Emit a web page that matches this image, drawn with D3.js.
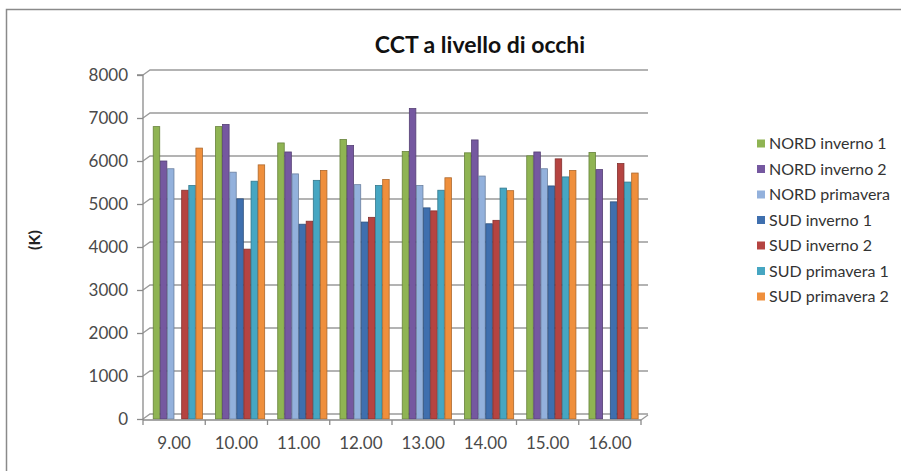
<!DOCTYPE html>
<html>
<head>
<meta charset="utf-8">
<script src="https://cdn.jsdelivr.net/npm/d3@7"></script>
<style>
  body { margin: 0; background: #fff; }
  svg { display: block; font-family: Lato, "Liberation Sans", sans-serif; }
</style>
</head>
<body>
<svg id="chart" width="901" height="471"></svg>
<script>
// hours on the x axis
var hours = ["9.00", "10.00", "11.00", "12.00", "13.00", "14.00", "15.00", "16.00"];
var seriesNames = ["NORD inverno 1", "NORD inverno 2", "NORD primavera",
    "SUD inverno 1", "SUD inverno 2", "SUD primavera 1", "SUD primavera 2"];
var seriesColors = ["#8fb453", "#7558a0", "#93b1dc", "#3f6fae", "#b54441", "#46a6c2", "#ef8f3c"];

// values (K), null = no bar
var nordInverno1 = [6800, 6800, 6420, 6500, 6220, 6190, 6120, 6200];
var nordInverno2 = [6000, 6850, 6210, 6360, 7220, 6490, 6210, 5800];
var nordPrimavera = [5820, 5740, 5700, 5450, 5430, 5650, 5820, null];
var sudInverno1 = [null, 5120, 4530, 4580, 4910, 4540, 5420, 5050];
var sudInverno2 = [5320, 3950, 4600, 4690, 4840, 4620, 6050, 5940];
var sudPrimavera1 = [5430, 5530, 5550, 5430, 5320, 5370, 5630, 5510];
var sudPrimavera2 = [6300, 5910, 5780, 5570, 5610, 5310, 5780, 5720];

var yTicks = [0, 1000, 2000, 3000, 4000, 5000, 6000, 7000, 8000];

var allSeries = [nordInverno1, nordInverno2, nordPrimavera, sudInverno1,
    sudInverno2, sudPrimavera1, sudPrimavera2];

var svg = d3.select('#chart');

// outer chart frame (right and bottom cut off in the original)
svg.append('path')
    .attr('d', 'M6.5,471 L6.5,9.5 L901,9.5')
    .attr('fill', 'none')
    .attr('stroke', '#8a8a8a')
    .attr('stroke-width', 1.5);

var plotLeft = 143, plotRight = 641, plotTop = 75, plotBottom = 419;
var dx = 7, dy = 5; // depth offset of the back wall

var x0 = d3.scaleBand()
    .domain(hours)
    .range([plotLeft, plotRight])
    .paddingInner(0.2)
    .paddingOuter(0.1);

var x1 = d3.scaleBand()
    .domain(d3.range(seriesNames.length))
    .range([0, x0.bandwidth()]);

var y = d3.scaleLinear()
    .domain([0, 8000])
    .range([plotBottom, plotTop]);

// back wall gridlines with the side wall slant
svg.append('g')
    .selectAll('path')
    .data(yTicks)
    .enter()
    .append('path')
    .attr('d', function (d) {
        return 'M' + plotLeft + ',' + y(d) + ' L' + (plotLeft + dx) + ',' + (y(d) - dy) +
            ' L' + (plotRight + dx) + ',' + (y(d) - dy);
    })
    .attr('fill', 'none')
    .attr('stroke', '#9a9a9a')
    .attr('stroke-width', 1.3);

// floor edge on the right
svg.append('path')
    .attr('d', 'M' + plotRight + ',' + (plotBottom + 1) + ' L' + (plotRight + dx) + ',' + (plotBottom + 1 - dy))
    .attr('stroke', '#9a9a9a')
    .attr('stroke-width', 1.3);

// bars
var groups = svg.append('g')
    .selectAll('g')
    .data(hours)
    .enter()
    .append('g')
    .attr('transform', function (d) { return 'translate(' + (x0(d) + 4) + ',0)'; });

groups.selectAll('rect')
    .data(function (d, i) {
        return allSeries.map(function (s, k) { return { k: k, v: s[i] }; })
            .filter(function (e) { return e.v !== null; });
    })
    .enter()
    .append('rect')
    .attr('x', function (d) { return x1(d.k); })
    .attr('width', x1.bandwidth() - 0.6)
    .attr('y', function (d) { return y(d.v); })
    .attr('height', function (d) { return y(0) - y(d.v); })
    .attr('fill', function (d) { return seriesColors[d.k]; })
    .attr('stroke', function (d) { return d3.color(seriesColors[d.k]).darker(0.9); })
    .attr('stroke-width', 0.8);

// y axis
var yAxis = d3.axisLeft(y)
    .tickValues(yTicks)
    .tickFormat(d3.format('d'))
    .tickSize(6)
    .tickPadding(9);

var ya = svg.append('g')
    .attr('transform', 'translate(' + plotLeft + ',0)')
    .call(yAxis);
ya.select('.domain').attr('stroke', '#8a8a8a').attr('stroke-width', 1.3)
    .attr('d', 'M-6,' + plotTop + 'H0V' + (plotBottom + 1));
ya.selectAll('.tick line').attr('stroke', '#8a8a8a').attr('stroke-width', 1.3);
ya.selectAll('.tick text')
    .attr('fill', '#4a4a4a')
    .style('font-size', '17px')
    .style('font-family', 'Lato, sans-serif');

// x axis: ticks at category boundaries
var xa = svg.append('g')
    .attr('transform', 'translate(0,' + (plotBottom + 1) + ')');
xa.append('path')
    .attr('d', 'M' + plotLeft + ',0H' + plotRight)
    .attr('stroke', '#8a8a8a')
    .attr('stroke-width', 1.3);
var step = x0.step();
xa.selectAll('line')
    .data(d3.range(hours.length + 1))
    .enter()
    .append('line')
    .attr('x1', function (d) { return plotLeft + d * step; })
    .attr('x2', function (d) { return plotLeft + d * step; })
    .attr('y1', 0)
    .attr('y2', 5)
    .attr('stroke', '#8a8a8a')
    .attr('stroke-width', 1.3);
xa.selectAll('text')
    .data(hours)
    .enter()
    .append('text')
    .attr('x', function (d) { return x0(d) + x0.bandwidth() / 2; })
    .attr('y', 29)
    .attr('text-anchor', 'middle')
    .attr('fill', '#4a4a4a')
    .style('font-size', '17px')
    .text(function (d) { return d; });

// title
svg.append('text')
    .attr('x', 480)
    .attr('y', 53)
    .attr('text-anchor', 'middle')
    .attr('fill', '#111')
    .style('font-size', '23px')
    .style('font-weight', 'bold')
    .text('CCT a livello di occhi');

// y axis title
svg.append('text')
    .attr('transform', 'translate(40,240) rotate(-90)')
    .attr('text-anchor', 'middle')
    .attr('fill', '#222')
    .style('font-size', '16px')
    .style('font-weight', 'bold')
    .text('(K)');

// legend
var legend = svg.append('g')
    .selectAll('g')
    .data(seriesNames)
    .enter()
    .append('g')
    .attr('transform', function (d, i) { return 'translate(757,' + (143.5 + i * 25.5) + ')'; });

legend.append('rect')
    .attr('x', 0)
    .attr('y', -4)
    .attr('width', 8)
    .attr('height', 8)
    .attr('fill', function (d, i) { return seriesColors[i]; });

legend.append('text')
    .attr('x', 12)
    .attr('y', 5.5)
    .attr('fill', '#333')
    .style('font-size', '16px')
    .text(function (d) { return d; });
</script>
</body>
</html>
